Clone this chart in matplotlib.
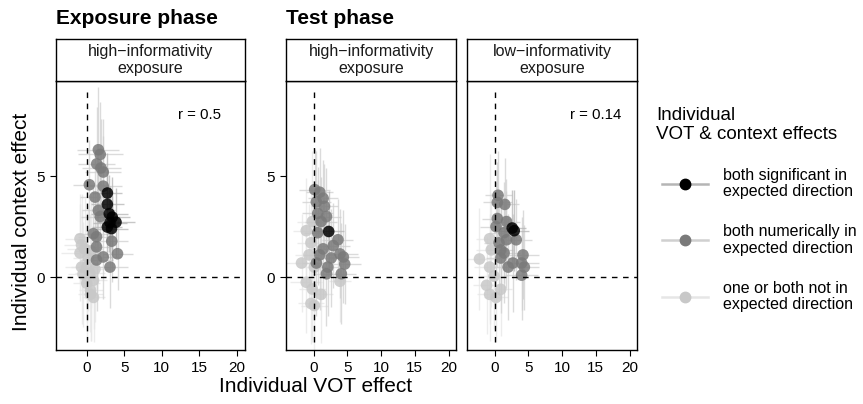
import matplotlib
matplotlib.use("Agg")
import matplotlib.pyplot as plt
from matplotlib.lines import Line2D

plt.rcParams['font.family'] = ['Liberation Sans', 'DejaVu Sans']

# ---------------- data ----------------
legend_title = "Individual\nVOT & context effects"
group_labels = ["both significant in\nexpected direction",
                "both numerically in\nexpected direction",
                "one or both not in\nexpected direction"]
strip_labels = ["high\u2212informativity\nexposure",
                "high\u2212informativity\nexposure",
                "low\u2212informativity\nexposure"]
r_labels = ["r = 0.5", None, "r = 0.14"]
x_ticks = [0, 5, 10, 15, 20]
y_ticks = [0, 5]

# Panel 1: exposure phase, high-informativity
exp_sig_vot = [2.75, 2.75, 3.0, 3.4, 2.75, 3.3, 3.9, 3.1]
exp_sig_ctx = [4.16, 3.6, 3.14, 2.97, 2.48, 2.4, 2.72, 2.7]
exp_sig_xerr = [2.0, 2.2, 2.5, 2.4, 2.0, 2.2, 2.5, 2.3]
exp_sig_yerr = [2.0, 1.8, 1.9, 2.0, 1.5, 1.6, 1.7, 1.8]

exp_num_vot = [1.55, 1.8, 1.33, 1.9, 2.2, 0.35, 2.2, 1.1, 1.55, 1.8, 0.88, 1.3, 3.33, 4.1, 2.2, 3.1, 1.3, 1.3]
exp_num_ctx = [6.3, 6.07, 5.6, 5.4, 5.2, 4.57, 4.5, 3.96, 3.3, 3.0, 2.15, 2.0, 1.78, 1.16, 1.0, 0.5, 1.5, 0.85]
exp_num_xerr = [2.8, 3.0, 2.5, 2.6, 2.4, 2.2, 2.5, 2.0, 2.2, 2.6, 2.3, 2.5, 2.2, 2.0, 2.3, 2.4, 2.0, 2.2]
exp_num_yerr = [3.1, 2.6, 2.8, 2.4, 2.6, 2.2, 2.5, 2.4, 2.3, 2.2, 2.3, 2.6, 2.0, 1.8, 2.1, 2.0, 2.3, 2.5]

exp_not_vot = [-0.9, -0.7, -0.9, -0.7, -0.5, 0.0, 0.5, 0.9, 0.2, 0.6, 0.9, -0.3, 0.4, 1.1, 0.0, 0.5]
exp_not_ctx = [1.9, 1.6, 1.2, 0.5, 0.15, -0.3, -0.65, -1.0, 0.95, 1.3, -0.15, 1.4, 0.2, 0.4, 0.5, -0.85]
exp_not_xerr = [2.0, 2.3, 2.5, 2.2, 2.0, 1.8, 1.6, 1.5, 2.0, 2.2, 1.8, 2.4, 2.0, 1.8, 2.1, 1.7]
exp_not_yerr = [2.2, 2.5, 2.4, 2.8, 2.6, 2.7, 2.5, 2.2, 2.6, 2.8, 2.4, 2.5, 2.9, 2.6, 2.7, 2.3]

# Panel 2: test phase, high-informativity
th_sig_vot = [2.23]
th_sig_ctx = [2.26]
th_sig_xerr = [2.2]
th_sig_yerr = [2.0]

th_num_vot = [0.15, 0.9, 1.4, 0.4, 1.6, 0.6, 1.9, 1.1, 0.6, 3.6, 2.9, 1.4, 3.9, 4.4, 4.6, 2.1, 1.9, 4.1, 0.9, 0.4, 2.6]
th_num_ctx = [4.33, 4.2, 3.9, 3.72, 3.5, 3.15, 3.0, 2.75, 2.2, 1.85, 1.56, 1.4, 1.15, 1.0, 0.65, 0.5, 0.17, 0.17, 1.1, 0.7, 0.95]
th_num_xerr = [2.3, 2.0, 2.2, 2.1, 2.0, 2.3, 2.2, 2.4, 2.0, 2.3, 2.5, 2.2, 2.6, 2.3, 2.4, 2.1, 2.0, 2.2, 2.3, 2.1, 2.4]
th_num_yerr = [2.0, 2.2, 1.9, 2.5, 2.1, 2.3, 2.4, 2.2, 2.6, 2.0, 2.1, 2.5, 2.2, 2.3, 2.0, 2.4, 2.6, 2.5, 2.7, 2.6, 2.4]

th_not_vot = [-1.1, -1.8, -0.2, -0.4, -1.1, -0.2, -0.4, 0.1, 1.1, 3.9, 0.1, -0.7]
th_not_ctx = [2.3, 0.7, 2.75, 1.7, -0.25, -0.58, -1.3, -1.4, -0.85, -0.2, 0.5, 1.1]
th_not_xerr = [2.0, 2.3, 2.2, 2.1, 2.4, 2.0, 1.9, 2.0, 1.8, 1.6, 2.2, 2.1]
th_not_yerr = [2.6, 2.4, 3.5, 2.8, 2.5, 2.6, 2.0, 2.2, 2.4, 2.0, 2.6, 2.5]

# Panel 3: test phase, low-informativity
tl_sig_vot = [2.6, 2.9]
tl_sig_ctx = [2.43, 2.3]
tl_sig_xerr = [2.0, 2.2]
tl_sig_yerr = [1.9, 2.0]

tl_num_vot = [0.5, 0.4, 1.5, 0.4, 1.75, 0.2, 1.4, 1.75, 3.2, 0.65, 1.4, 4.2, 4.0, 4.4, 2.7, 4.0, 2.0, 0.9, 0.9]
tl_num_ctx = [4.05, 3.7, 3.6, 2.9, 2.75, 2.5, 2.2, 1.85, 1.85, 1.7, 1.2, 1.1, 0.7, 0.5, 0.7, 0.1, 0.5, 0.95, 1.35]
tl_num_xerr = [2.0, 2.2, 2.1, 2.3, 2.0, 2.4, 2.2, 2.1, 2.3, 2.2, 2.4, 2.3, 2.5, 2.2, 2.1, 2.4, 2.3, 2.2, 2.0]
tl_num_yerr = [2.2, 2.0, 2.3, 2.4, 2.1, 2.2, 2.5, 2.4, 2.0, 2.6, 2.5, 2.2, 2.3, 2.1, 2.4, 2.2, 2.6, 2.7, 2.5]

tl_not_vot = [-0.75, -2.25, -0.75, -1.2, -0.75, 0.2, -0.1, -0.5, 0.9]
tl_not_ctx = [1.9, 0.9, 0.5, -0.4, -0.85, -1.0, 0.05, 1.35, -0.6]
tl_not_xerr = [2.0, 2.2, 2.3, 2.0, 1.9, 1.8, 2.1, 2.2, 1.7]
tl_not_yerr = [4.2, 2.5, 2.6, 2.4, 2.3, 2.2, 2.6, 2.8, 2.3]

panels = [
    [(exp_not_vot, exp_not_ctx, exp_not_xerr, exp_not_yerr),
     (exp_num_vot, exp_num_ctx, exp_num_xerr, exp_num_yerr),
     (exp_sig_vot, exp_sig_ctx, exp_sig_xerr, exp_sig_yerr)],
    [(th_not_vot, th_not_ctx, th_not_xerr, th_not_yerr),
     (th_num_vot, th_num_ctx, th_num_xerr, th_num_yerr),
     (th_sig_vot, th_sig_ctx, th_sig_xerr, th_sig_yerr)],
    [(tl_not_vot, tl_not_ctx, tl_not_xerr, tl_not_yerr),
     (tl_num_vot, tl_num_ctx, tl_num_xerr, tl_num_yerr),
     (tl_sig_vot, tl_sig_ctx, tl_sig_xerr, tl_sig_yerr)],
]

# styles, ordered not / num / sig
pt_colors = ["#c8c8c8", "#7a7a7a", "#000000"]
bar_colors = ["#e6e6e6", "#d0d0d0", "#b5b5b5"]

# ---------------- figure ----------------
W, H = 863, 404
fig = plt.figure(figsize=(W / 100, H / 100), dpi=100)

def fx(px):
    return px / W

def fy(py):
    return 1 - py / H

panel_px = [(56, 245), (286, 456), (467, 637)]
top_px, bot_px, strip_top_px = 81, 350, 39

xlim = (-4.1, 21.1)
ylim = (-3.6, 9.7)

axes = []
for i, (l, r) in enumerate(panel_px):
    ax = fig.add_axes([fx(l), fy(bot_px), fx(r - l), fy(top_px) - fy(bot_px)])
    axes.append(ax)
    for g, (vx, vy, ex, ey) in enumerate(panels[i]):
        ax.errorbar(vx, vy, xerr=ex, yerr=ey, fmt='none', ecolor=bar_colors[g],
                    elinewidth=1.0, capsize=0, alpha=0.75, zorder=1 + g)
    for g, (vx, vy, ex, ey) in enumerate(panels[i]):
        ax.scatter(vx, vy, s=70, color=pt_colors[g], alpha=0.85, edgecolors='none',
                   zorder=5 + g)
    ax.axhline(0, color='black', lw=1.0, ls=(0, (4, 4)), zorder=10)
    ax.plot([0, 0], [-3.2, 9.4], color='black', lw=1.0, ls=(0, (4, 4)), zorder=10)
    ax.set_xlim(*xlim)
    ax.set_ylim(*ylim)
    ax.set_xticks(x_ticks)
    ax.set_yticks(y_ticks)
    ax.tick_params(direction='out', length=4.5, width=0.8, colors='black',
                   labelsize=11, pad=3.5)
    for s in ax.spines.values():
        s.set_linewidth(1.0)
        s.set_color('black')
    if i == 2:
        ax.tick_params(axis='y', left=False, labelleft=False)
    if r_labels[i]:
        ax.text(15, 8.0, r_labels[i], ha='center', va='center', fontsize=10.8)

    # strip
    sax = fig.add_axes([fx(l), fy(top_px), fx(r - l), fy(strip_top_px) - fy(top_px)])
    sax.set_xticks([])
    sax.set_yticks([])
    for s in sax.spines.values():
        s.set_linewidth(1.0)
        s.set_color('black')
    sax.text(0.5, 0.5, strip_labels[i], ha='center', va='center', fontsize=11.5,
             linespacing=1.15, transform=sax.transAxes, color='#1a1a1a')

# titles
fig.text(fx(56), fy(19), "Exposure phase", fontsize=15, fontweight='bold',
         ha='left', va='center')
fig.text(fx(286), fy(19), "Test phase", fontsize=15, fontweight='bold',
         ha='left', va='center')

# axis labels
fig.text(fx(316), fy(386), "Individual VOT effect", fontsize=15, ha='center', va='center')
fig.text(fx(22), fy(222), "Individual context effect", fontsize=15, ha='center',
         va='center', rotation=90)

# legend
fig.text(fx(656), fy(125), legend_title, fontsize=13.5, ha='left', va='center',
         linespacing=1.15)
handles = []
for g in [2, 1, 0]:
    handles.append(Line2D([0], [0], color=bar_colors[g], lw=1.8, marker='o',
                          markersize=7.5, markerfacecolor=pt_colors[g],
                          markeredgecolor=pt_colors[g]))
leg = fig.legend(handles, group_labels, loc='center left',
                 bbox_to_anchor=(fx(662), fy(240)), frameon=False,
                 fontsize=11.5, handlelength=2.9, labelspacing=1.55,
                 handletextpad=0.95, borderaxespad=0, borderpad=0)
for t in leg.get_texts():
    t.set_linespacing(1.15)

fig.savefig("out.png", dpi=100)
